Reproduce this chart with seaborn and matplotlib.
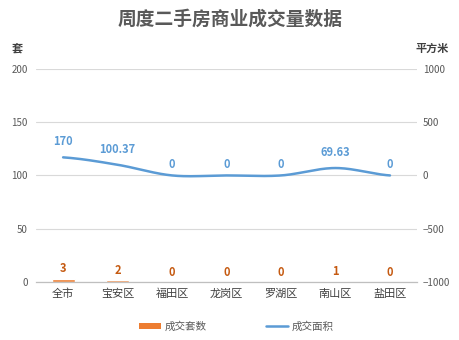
import numpy as np
import pandas as pd
import matplotlib
matplotlib.use("Agg")
import matplotlib.pyplot as plt
import seaborn as sns
from matplotlib.patches import Patch
from matplotlib.lines import Line2D

categories = ["全市", "宝安区", "福田区", "龙岗区", "罗湖区", "南山区", "盐田区"]
units = [3, 2, 0, 0, 0, 1, 0]
area = [170, 100.37, 0, 0, 0, 69.63, 0]
area_labels = ["170", "100.37", "0", "0", "0", "69.63", "0"]
left_ticks = [0, 50, 100, 150, 200]
right_ticks = [-1000, -500, 0, 500, 1000]

sns.set_theme(style="white")
plt.rcParams['font.family'] = ['Noto Sans CJK SC', 'DejaVu Sans']
plt.rcParams['axes.unicode_minus'] = True

bar_c = "#ED7D31"
line_c = "#5B9BD5"
bar_lab_c = "#C55A11"

fig = plt.figure(figsize=(4.6, 3.4), dpi=100)
ax = fig.add_axes([0.078, 0.171, 0.829, 0.626])

df = pd.DataFrame({"cat": categories, "units": units})
sns.barplot(data=df, x="cat", y="units", color=bar_c, width=0.42, ax=ax, saturation=1)
ax.set_ylim(0, 200)
ax.set_xlim(-0.5, len(categories) - 0.5)
ax.set_yticks(left_ticks)
ax.yaxis.grid(True, color="#D9D9D9", linewidth=0.8)
ax.set_axisbelow(True)
for s in ["top", "right", "left"]:
    ax.spines[s].set_visible(False)
ax.spines["bottom"].set_color("#BFBFBF")
ax.spines["bottom"].set_linewidth(0.9)
ax.tick_params(axis="y", length=0, labelsize=7, labelcolor="#595959", pad=6)
ax.tick_params(axis="x", length=0, labelsize=8, labelcolor="#404040", pad=5)
ax.set_xlabel("")
ax.set_ylabel("")

for i, v in enumerate(units):
    ax.text(i, v + 3, str(v), ha="center", va="bottom", fontsize=8,
            fontweight="bold", color=bar_lab_c)

ax2 = ax.twinx()
ax2.set_ylim(-1000, 1000)
ax2.set_yticks(right_ticks)
for s in ["top", "right", "left", "bottom"]:
    ax2.spines[s].set_visible(False)
ax2.tick_params(axis="y", length=0, labelsize=7, labelcolor="#595959", pad=4)
ax2.grid(False)

# smooth curve (Catmull-Rom through data points)
x = np.arange(len(area), dtype=float)
y = np.array(area, dtype=float)
xp = np.concatenate([[x[0] - (x[1] - x[0])], x, [x[-1] + (x[-1] - x[-2])]])
yp = np.concatenate([[y[0]], y, [y[-1]]])
xs, ys = [], []
for k in range(1, len(xp) - 2):
    t = np.linspace(0, 1, 30)
    p0, p1, p2, p3 = yp[k - 1], yp[k], yp[k + 1], yp[k + 2]
    yy = 0.5 * ((2 * p1) + (-p0 + p2) * t + (2 * p0 - 5 * p1 + 4 * p2 - p3) * t**2
                + (-p0 + 3 * p1 - 3 * p2 + p3) * t**3)
    xx = xp[k] + t * (xp[k + 1] - xp[k])
    xs.extend(xx)
    ys.extend(yy)
sm = pd.DataFrame({"x": xs, "y": ys})
sns.lineplot(data=sm, x="x", y="y", color=line_c, linewidth=1.8, ax=ax2, sort=False)
ax2.set_xlabel("")
ax2.set_ylabel("")

for i, (v, lab) in enumerate(zip(area, area_labels)):
    off = 85 if v > 0 else 40
    ax2.text(i, v + off, lab, ha="center", va="bottom", fontsize=8,
             fontweight="bold", color=line_c)

fig.text(0.5, 0.945, "周度二手房商业成交量数据", ha="center", va="center",
         fontsize=13.5, fontweight="bold", color="#595959")
fig.text(0.037, 0.858, "套", ha="center", va="center", fontsize=8,
         fontweight="bold", color="#404040")
fig.text(0.94, 0.858, "平方米", ha="center", va="center", fontsize=8,
         fontweight="bold", color="#404040")

handles = [Patch(facecolor=bar_c, edgecolor="none"),
           Line2D([0], [0], color=line_c, linewidth=1.8)]
fig.legend(handles, ["成交套数", "成交面积"], loc="center", bbox_to_anchor=(0.513, 0.04),
           ncol=2, frameon=False, fontsize=7.6, labelcolor="#595959",
           handlelength=2.1, handleheight=0.6, columnspacing=5.6, handletextpad=0.35)

fig.savefig("out.png", dpi=100)
